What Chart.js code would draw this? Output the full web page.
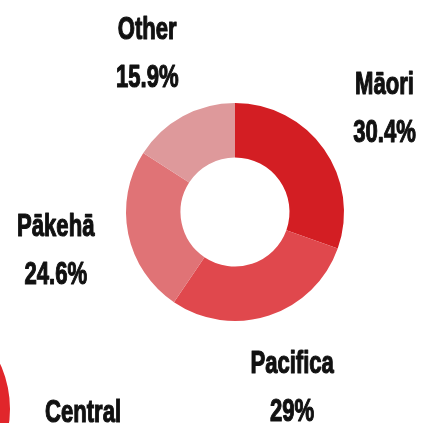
<!DOCTYPE html>
<html>
<head>
<meta charset="utf-8">
<script src="https://cdn.jsdelivr.net/npm/chart.js@4/dist/chart.umd.min.js"></script>
<style>
  html, body { margin: 0; padding: 0; background: #fff; overflow: hidden; }
  body { width: 424px; height: 423px; position: relative; }
  #ethnicityChart { position: absolute; left: 0; top: 0; }
  #regionChart { position: absolute; left: -249px; top: 259px; }
  #centralLabel {
    position: absolute; left: 45px; top: 393px;
    font: bold 32px "Liberation Sans", Arial, sans-serif; color: #111;
    -webkit-text-stroke: 1.2px #111;
    transform: scaleX(0.69); transform-origin: left top; white-space: nowrap;
  }
</style>
</head>
<body>
<canvas id="regionChart" width="300" height="300"></canvas>
<canvas id="ethnicityChart" width="424" height="423"></canvas>
<div id="centralLabel">Central</div>
<script>
// ethnicity breakdown (percent)
var ethnicityLabels = ['Māori', 'Pacifica', 'Pākehā', 'Other'];
var ethnicityValues = [30.4, 29, 24.6, 15.9];
var ethnicityColors = ['rgb(211,30,35)', 'rgb(224,72,77)', 'rgb(224,115,118)', 'rgb(222,153,155)'];

// next chart down the page, only its edge shows
var regionLabels = ['Central'];
var regionValues = [1];
var regionColors = ['rgb(225,38,43)'];

// draws "Name" + "xx%" outside each slice, condensed look
var outsideLabels = {
    id: 'outsideLabels',
    afterDatasetsDraw: function(chart) {
        var ctx = chart.ctx;
        var meta = chart.getDatasetMeta(0);
        var values = chart.data.datasets[0].data;
        meta.data.forEach(function(arc, i) {
            var p = arc.getProps(['x', 'y', 'startAngle', 'endAngle', 'outerRadius'], true);
            var mid = (p.startAngle + p.endAngle) / 2;
            var r = p.outerRadius + 74;
            var cx = p.x + Math.cos(mid) * r;
            var cy = p.y + Math.sin(mid) * r;
            var lines = [chart.data.labels[i], values[i] + '%'];
            ctx.save();
            ctx.font = 'bold 32px "Liberation Sans", Arial, sans-serif';
            ctx.fillStyle = '#111';
            ctx.strokeStyle = '#111';
            ctx.lineWidth = 1.2;
            ctx.lineJoin = 'round';
            ctx.textAlign = 'center';
            ctx.textBaseline = 'alphabetic';
            lines.forEach(function(txt, j) {
                var y = cy + (j === 0 ? -24 : 24) + 11.5;
                ctx.save();
                ctx.translate(cx, y);
                ctx.scale(0.69, 1);
                ctx.fillText(txt, 0, 0);
                ctx.strokeText(txt, 0, 0);
                ctx.restore();
            });
            ctx.restore();
        });
    }
};

new Chart(document.getElementById('ethnicityChart'), {
    type: 'doughnut',
    data: {
        labels: ethnicityLabels,
        datasets: [{
            data: ethnicityValues,
            backgroundColor: ethnicityColors,
            borderWidth: 0
        }]
    },
    options: {
        responsive: false,
        animation: false,
        cutout: '50%',
        layout: { padding: { left: 126, right: 80, top: 103, bottom: 102 } },
        plugins: {
            legend: { display: false },
            tooltip: { enabled: false }
        }
    },
    plugins: [outsideLabels]
});

new Chart(document.getElementById('regionChart'), {
    type: 'doughnut',
    data: {
        labels: regionLabels,
        datasets: [{
            data: regionValues,
            backgroundColor: regionColors,
            borderWidth: 0
        }]
    },
    options: {
        responsive: false,
        animation: false,
        cutout: '50%',
        layout: { padding: 41 },
        plugins: {
            legend: { display: false },
            tooltip: { enabled: false }
        }
    }
});
</script>
</body>
</html>
